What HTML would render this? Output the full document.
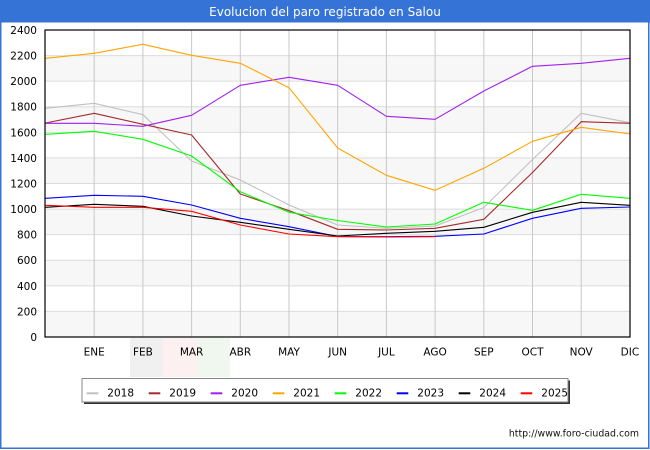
<!DOCTYPE html>
<html><head><meta charset="utf-8"><style>
html,body{margin:0;padding:0;background:#fff;}
body{width:650px;height:450px;overflow:hidden;}
svg{display:block;font-family:"DejaVu Sans","Liberation Sans",sans-serif;}
</style></head><body>
<svg width="650" height="450" viewBox="0 0 650 450" xmlns="http://www.w3.org/2000/svg">
<rect x="0" y="0" width="650" height="450" fill="#fff"/>
<rect x="0.75" y="0.75" width="648" height="447.5" fill="none" stroke="#3573d6" stroke-width="1.5"/>
<rect x="0" y="0" width="650" height="22.5" fill="#3573d6"/>
<text x="325" y="16" font-size="12" fill="#fff" text-anchor="middle">Evolucion del paro registrado en Salou</text>

<!-- faint logo -->
<rect x="130" y="338" width="33" height="39" fill="#f0f0f0"/>
<rect x="163" y="338" width="34" height="39" fill="#fcf0f0"/>
<rect x="197" y="338" width="33" height="39" fill="#eff7ef"/>

<!-- plot bands -->
<g fill="#f7f7f7">
<rect x="45" y="311.42" width="585" height="25.58"/>
<rect x="45" y="260.25" width="585" height="25.58"/>
<rect x="45" y="209.08" width="585" height="25.58"/>
<rect x="45" y="157.92" width="585" height="25.58"/>
<rect x="45" y="106.75" width="585" height="25.58"/>
<rect x="45" y="55.58" width="585" height="25.58"/>
</g>
<g stroke="#dcdcdc" stroke-width="1">
<line x1="45" x2="630" y1="311.42" y2="311.42"/>
<line x1="45" x2="630" y1="285.83" y2="285.83"/>
<line x1="45" x2="630" y1="260.25" y2="260.25"/>
<line x1="45" x2="630" y1="234.67" y2="234.67"/>
<line x1="45" x2="630" y1="209.08" y2="209.08"/>
<line x1="45" x2="630" y1="183.5" y2="183.5"/>
<line x1="45" x2="630" y1="157.92" y2="157.92"/>
<line x1="45" x2="630" y1="132.33" y2="132.33"/>
<line x1="45" x2="630" y1="106.75" y2="106.75"/>
<line x1="45" x2="630" y1="81.17" y2="81.17"/>
<line x1="45" x2="630" y1="55.58" y2="55.58"/>
</g>
<g stroke="#c8c8c8" stroke-width="1">
<line x1="94.2" x2="94.2" y1="30" y2="337"/>
<line x1="142.9" x2="142.9" y1="30" y2="337"/>
<line x1="191.6" x2="191.6" y1="30" y2="337"/>
<line x1="240.3" x2="240.3" y1="30" y2="337"/>
<line x1="289" x2="289" y1="30" y2="337"/>
<line x1="337.7" x2="337.7" y1="30" y2="337"/>
<line x1="386.4" x2="386.4" y1="30" y2="337"/>
<line x1="435.1" x2="435.1" y1="30" y2="337"/>
<line x1="483.8" x2="483.8" y1="30" y2="337"/>
<line x1="532.5" x2="532.5" y1="30" y2="337"/>
<line x1="581.2" x2="581.2" y1="30" y2="337"/>
</g>

<!-- series -->
<g fill="none" stroke-width="1.1" stroke-linejoin="round">
<polyline stroke="#c0c0c0" points="45.5,108.3 94.2,103.3 142.9,114.7 191.6,161 240.3,180 289,205 337.7,225 386.4,228.3 435.1,226 483.8,207.5 532.5,159.5 581.2,113.3 629.9,122.7"/>
<polyline stroke="#a52a2a" points="45.5,123 94.2,113.3 142.9,124.3 191.6,135 240.3,194 289,210.7 337.7,229.3 386.4,230 435.1,228.3 483.8,219.3 532.5,172.5 581.2,121.7 629.9,123.3"/>
<polyline stroke="#a020f0" points="45.5,123.3 94.2,123.3 142.9,126.3 191.6,115.3 240.3,85.3 289,77.3 337.7,85.3 386.4,116.3 435.1,119.3 483.8,91 532.5,66.3 581.2,63.3 629.9,58.3"/>
<polyline stroke="#ffa500" points="45.5,58.3 94.2,53.3 142.9,44.3 191.6,55.3 240.3,63.3 289,87.7 337.7,148 386.4,175.3 435.1,190.3 483.8,168.3 532.5,141.3 581.2,127.3 629.9,134"/>
<polyline stroke="#00ff00" points="45.5,134.3 94.2,131.3 142.9,139.3 191.6,156 240.3,191.7 289,212.3 337.7,220.5 386.4,227 435.1,224 483.8,202.3 532.5,210.3 581.2,194.3 629.9,198.3"/>
<polyline stroke="#0000ff" points="45.5,198.3 94.2,195.3 142.9,196.3 191.6,205 240.3,218.3 289,226.7 337.7,236.5 386.4,236.7 435.1,236.3 483.8,234 532.5,218.3 581.2,208.3 629.9,207"/>
<polyline stroke="#000000" points="45.5,207.3 94.2,204.3 142.9,206.3 191.6,216 240.3,222.3 289,229.3 337.7,236 386.4,233.3 435.1,231.3 483.8,227.3 532.5,212.3 581.2,202.3 629.9,205.3"/>
<polyline stroke="#ff0000" points="45.5,205.3 94.2,207.3 142.9,207.3 191.6,211.3 240.3,225 289,234 337.7,236.7 386.4,237 435.1,236.7"/>
</g>

<rect x="45" y="30" width="585" height="307" fill="none" stroke="#000" stroke-width="1.2"/>

<!-- y labels -->
<g font-size="10.5" fill="#000" text-anchor="end">
<text x="37" y="341">0</text>
<text x="37" y="315.4">200</text>
<text x="37" y="289.8">400</text>
<text x="37" y="264.2">600</text>
<text x="37" y="238.7">800</text>
<text x="37" y="213.1">1000</text>
<text x="37" y="187.5">1200</text>
<text x="37" y="161.9">1400</text>
<text x="37" y="136.3">1600</text>
<text x="37" y="110.7">1800</text>
<text x="37" y="85.2">2000</text>
<text x="37" y="59.6">2200</text>
<text x="37" y="34">2400</text>
</g>
<!-- x labels -->
<g font-size="10.5" fill="#000" text-anchor="middle">
<text x="94.2" y="355.5">ENE</text>
<text x="142.9" y="355.5">FEB</text>
<text x="191.6" y="355.5">MAR</text>
<text x="240.3" y="355.5">ABR</text>
<text x="289" y="355.5">MAY</text>
<text x="337.7" y="355.5">JUN</text>
<text x="386.4" y="355.5">JUL</text>
<text x="435.1" y="355.5">AGO</text>
<text x="483.8" y="355.5">SEP</text>
<text x="532.5" y="355.5">OCT</text>
<text x="581.2" y="355.5">NOV</text>
<text x="629.9" y="355.5">DIC</text>
</g>

<!-- legend -->
<rect x="84" y="380.5" width="486" height="23.5" fill="#333"/>
<rect x="82" y="378.5" width="486" height="23.5" fill="#fff" stroke="#888" stroke-width="1"/>
<g stroke-width="2">
<line x1="86.7" x2="98.3" y1="393.3" y2="393.3" stroke="#c0c0c0"/>
<line x1="148.7" x2="160.3" y1="393.3" y2="393.3" stroke="#a52a2a"/>
<line x1="210.7" x2="222.3" y1="393.3" y2="393.3" stroke="#a020f0"/>
<line x1="272.7" x2="284.3" y1="393.3" y2="393.3" stroke="#ffa500"/>
<line x1="334.7" x2="346.3" y1="393.3" y2="393.3" stroke="#00ff00"/>
<line x1="396.7" x2="408.3" y1="393.3" y2="393.3" stroke="#0000ff"/>
<line x1="458.7" x2="470.3" y1="393.3" y2="393.3" stroke="#000000"/>
<line x1="520.7" x2="532.3" y1="393.3" y2="393.3" stroke="#ff0000"/>
</g>
<g font-size="10.5" fill="#000">
<text x="107.3" y="396.7">2018</text>
<text x="169.3" y="396.7">2019</text>
<text x="231.3" y="396.7">2020</text>
<text x="293.3" y="396.7">2021</text>
<text x="355.3" y="396.7">2022</text>
<text x="417.3" y="396.7">2023</text>
<text x="479.3" y="396.7">2024</text>
<text x="541.3" y="396.7">2025</text>
</g>

<text x="639" y="436.5" font-size="9.4" fill="#111" text-anchor="end">http://www.foro-ciudad.com</text>
</svg>
</body></html>
